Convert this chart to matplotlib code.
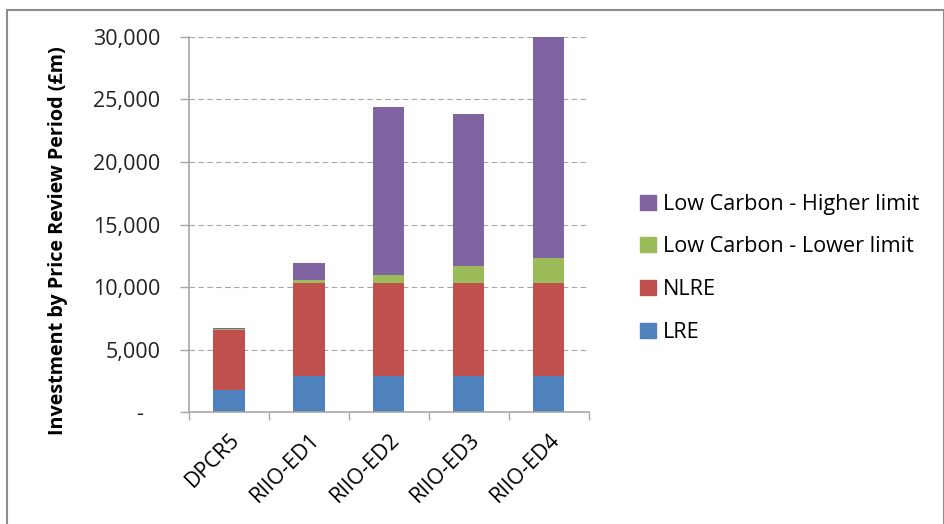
import matplotlib
matplotlib.use("Agg")
import matplotlib.pyplot as plt
import numpy as np
from matplotlib.patches import Patch, Rectangle
from matplotlib.ticker import FuncFormatter, FixedLocator

# ── data (£m, stacked per price review period) ───────────────────────────────
periods = ["DPCR5", "RIIO-ED1", "RIIO-ED2", "RIIO-ED3", "RIIO-ED4"]
lre = [1750, 2860, 2860, 2860, 2860]
nlre = [4810, 7480, 7480, 7480, 7480]
lc_lower = [80, 250, 650, 1360, 2010]
lc_higher = [80, 1300, 13390, 12120, 17650]

series = [
    ("LRE", lre, "#4F81BD"),
    ("NLRE", nlre, "#C0504D"),
    ("Low Carbon - Lower limit", lc_lower, "#9BBB59"),
    ("Low Carbon - Higher limit", lc_higher, "#8064A2"),
]

plt.rcParams["font.family"] = ["Open Sans", "DejaVu Sans"]
GREY = "#A6A6A6"

fig = plt.figure(figsize=(9.45, 5.24), dpi=100)
ax = fig.add_axes([0.2, 0.2137, 0.423, 0.7157])

x = np.arange(len(periods))
bottom = np.zeros(len(periods))
for name, vals, col in series:
    ax.bar(x, vals, width=0.39, bottom=bottom, color=col, label=name,
           edgecolor="none")
    bottom += np.array(vals)

ax.set_xlim(-0.5, len(periods) - 0.5)
ax.set_ylim(0, 30000)
ax.set_yticks(range(0, 30001, 5000))
ax.yaxis.set_major_formatter(FuncFormatter(
    lambda v, _: "-   " if v == 0 else f"{int(v):,}"))
ax.grid(axis="y", color=GREY, linestyle=(0, (5, 3)), linewidth=0.8)
ax.set_axisbelow(True)

# category labels at centres, tick marks at boundaries
ax.set_xticks(x)
ax.set_xticklabels(periods, rotation=45, ha="right", va="top",
                   rotation_mode="anchor", fontsize=15.5)
ax.xaxis.set_minor_locator(FixedLocator(np.arange(-0.5, len(periods), 1.0)))
ax.tick_params(axis="x", which="major", length=0, pad=12)
ax.tick_params(axis="x", which="minor", length=5.5, color=GREY, width=1)
ax.tick_params(axis="y", length=6.5, color=GREY, width=1, labelsize=15.5,
               pad=14, labelcolor="#222222")

for side in ("top", "right"):
    ax.spines[side].set_visible(False)
for side in ("left", "bottom"):
    ax.spines[side].set_color(GREY)
    ax.spines[side].set_linewidth(1.2)

ax.set_ylabel("Investment by Price Review Period (£m)", fontsize=14.2,
              fontweight="bold", va="center")
ax.yaxis.set_label_coords(-0.328, 0.456)

handles = [Patch(color=c, label=n) for n, _, c in series][::-1]
fig.legend(handles=handles, loc="center left", bbox_to_anchor=(0.657, 0.488),
           frameon=False, fontsize=15.6, handlelength=0.7, handleheight=0.7,
           handletextpad=0.35, labelspacing=1.0)

# outer chart-area frame
fig.patches.append(Rectangle((0.0075, -0.02), 0.991, 1.001, transform=fig.transFigure,
                             fill=False, edgecolor="#8C8C8C", linewidth=1.5))

fig.savefig("out.png", dpi=100)
